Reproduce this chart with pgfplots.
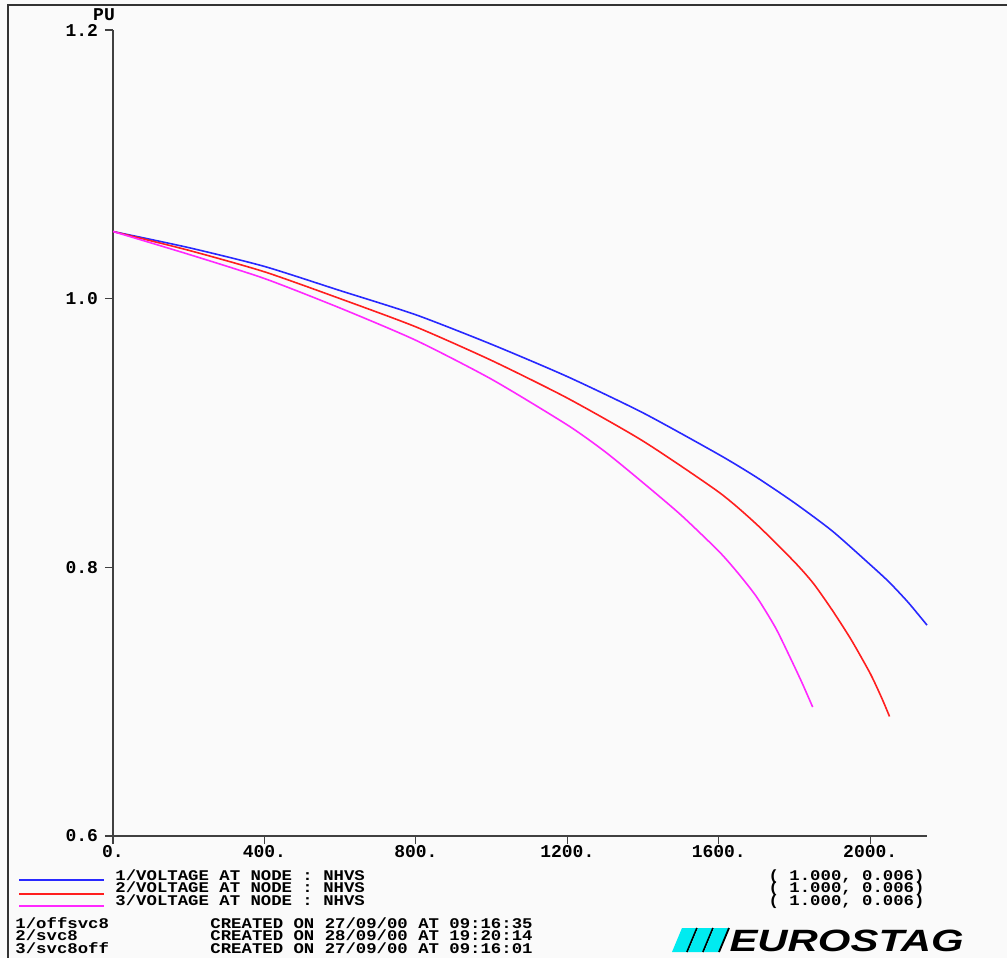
\documentclass[border=0pt]{standalone}
\usepackage{pgfplots}
\pgfplotsset{compat=1.18}
\usepackage{fontspec}
\newfontfamily\plotfont{Liberation Mono}
\newfontfamily\logofont{Liberation Sans}
\definecolor{bgcol}{RGB}{250,250,250}
\definecolor{curveA}{RGB}{40,40,255}
\definecolor{curveB}{RGB}{255,30,30}
\definecolor{curveC}{RGB}{255,40,255}
\definecolor{logocyan}{RGB}{0,235,240}
\newcommand{\pf}{\plotfont\bfseries\fontsize{9}{10}\selectfont}
\newcommand{\smallpf}{\plotfont\bfseries\fontsize{7.4}{8}\selectfont}
\tikzset{small line/.style={font=\smallpf, inner sep=0pt, xscale=1.17}}

\begin{document}
\begin{tikzpicture}
% page frame, 1 unit = 0.5pt, y downwards
\begin{scope}[x=0.5pt,y=-0.5pt]
  \fill[bgcol] (0,0) rectangle (1007,958);
  \path[use as bounding box] (0,0) rectangle (1007,958);
  \draw[line width=1.1pt,black!80] (1007,5) -- (8,5) -- (8,958);
\end{scope}

\begin{axis}[
  at={(56.5pt,-418pt)}, anchor=south west,
  scale only axis, width=407pt, height=403pt,
  xmin=0, xmax=2150, ymin=0.6, ymax=1.2,
  axis x line=bottom, axis y line=left,
  axis line style={-, line width=0.8pt, black!75},
  xtick={0,400,800,1200,1600,2000},
  xticklabels={0.,400.,800.,1200.,1600.,2000.},
  ytick={0.6,0.8,1.0,1.2},
  yticklabels={0.6,0.8,1.0,1.2},
  tick style={line width=0.6pt, black!75},
  tick align=outside,
  major tick length=4pt,
  ticklabel style={font=\pf},
  xticklabel style={yshift=3pt},
  clip=false,
  every axis plot/.append style={line width=0.8pt, smooth, tension=0.4},
]
% 1/offsvc8
\addplot[curveA] coordinates {
  (0,1.050) (200,1.038) (400,1.024) (600,1.006) (800,0.988)
  (1000,0.966) (1200,0.942) (1400,0.915) (1600,0.884) (1700,0.867)
  (1800,0.848) (1900,0.827) (2000,0.802) (2050,0.789) (2100,0.774)
  (2150,0.757)};
% 2/svc8
\addplot[curveB] coordinates {
  (0,1.050) (200,1.036) (400,1.020) (600,1.000) (800,0.979)
  (1000,0.954) (1200,0.926) (1400,0.894) (1600,0.856) (1700,0.832)
  (1800,0.804) (1850,0.788) (1900,0.768) (1950,0.746) (2000,0.721)
  (2030,0.703) (2051,0.689)};
% 3/svc8off
\addplot[curveC] coordinates {
  (0,1.050) (200,1.033) (400,1.015) (600,0.993) (800,0.969)
  (1000,0.940) (1200,0.906) (1300,0.886) (1400,0.863) (1500,0.839)
  (1600,0.812) (1650,0.796) (1700,0.778) (1750,0.755) (1790,0.732)
  (1820,0.714) (1848,0.696)};
\end{axis}

\begin{scope}[x=0.5pt,y=-0.5pt]
  \node[font=\pf, inner sep=0pt] at (104,15) {PU};
  % legend keys
  \draw[curveA, line width=0.8pt] (19,880) -- (104,880);
  \draw[curveB, line width=0.8pt] (19,894) -- (104,894);
  \draw[curveC, line width=0.8pt] (19,906) -- (104,906);
  \node[small line, anchor=base west] at (115,880) {1/VOLTAGE AT NODE : NHVS};
  \node[small line, anchor=base west] at (115,892.5) {2/VOLTAGE AT NODE : NHVS};
  \node[small line, anchor=base west] at (115,905) {3/VOLTAGE AT NODE : NHVS};
  \node[small line, anchor=base east] at (925,880) {( 1.000, 0.006)};
  \node[small line, anchor=base east] at (925,892.5) {( 1.000, 0.006)};
  \node[small line, anchor=base east] at (925,905) {( 1.000, 0.006)};
  % run names and dates
  \node[small line, anchor=base west] at (15,928) {1/offsvc8};
  \node[small line, anchor=base west] at (15,940.5) {2/svc8};
  \node[small line, anchor=base west] at (15,953) {3/svc8off};
  \node[small line, anchor=base west] at (210,928) {CREATED ON 27/09/00 AT 09:16:35};
  \node[small line, anchor=base west] at (210,940.5) {CREATED ON 28/09/00 AT 19:20:14};
  \node[small line, anchor=base west] at (210,953) {CREATED ON 27/09/00 AT 09:16:01};
  % logo
  \foreach \s in {672,688,704} {
    \fill[logocyan] (\s,952) -- (\s+15,952) -- (\s+25,928) -- (\s+10,928) -- cycle;
    \draw[black, line width=0.9pt] (\s+15,952) -- (\s+25,928);
  }
  \node[font=\logofont\bfseries\itshape\fontsize{15.4}{16}\selectfont, anchor=base west,
        inner sep=0pt, xscale=1.36] at (729,951) {EUROSTAG};
\end{scope}
\end{tikzpicture}
\end{document}
